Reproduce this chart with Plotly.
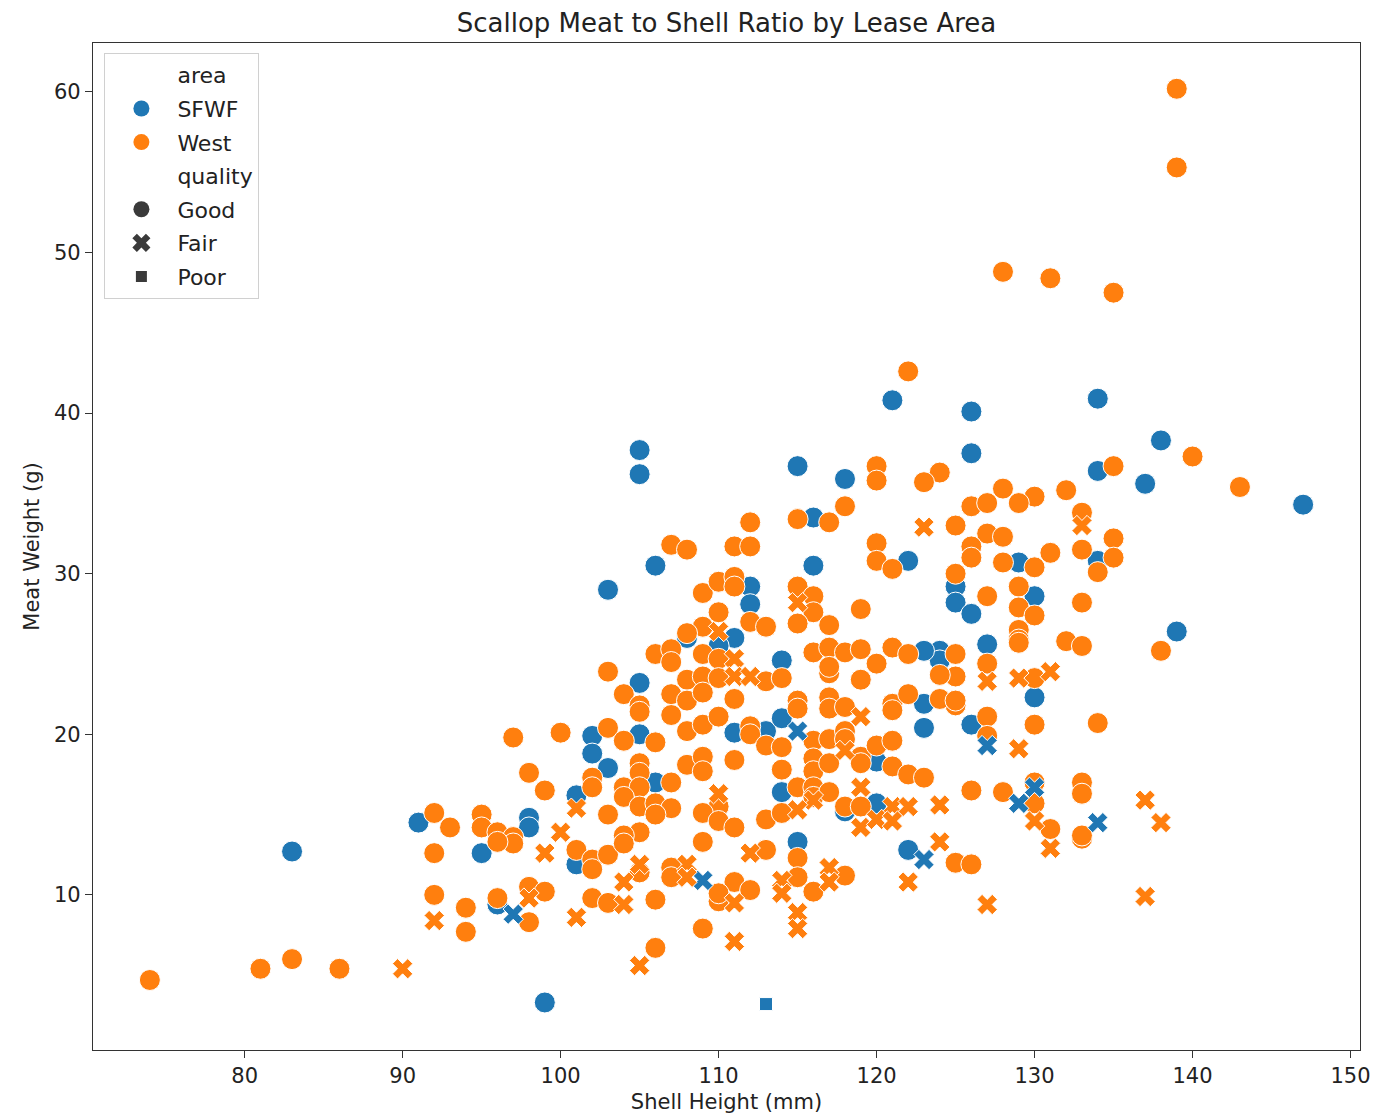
import plotly.graph_objects as go

# ---------------- data ----------------
sfwf_good_x = [105, 105, 115, 118, 116, 103, 106, 116, 122, 121, 126, 134, 138, 126, 137, 134, 147, 139,
               83, 91, 95, 99, 112, 112, 111, 108, 125, 125, 129, 130, 126, 134, 127, 130, 126, 123,
               123, 124, 124, 123, 114, 111, 113, 114, 120, 114, 120, 118, 105, 102, 102, 105, 103,
               101, 106, 98, 98, 101, 96, 115, 122, 110]
sfwf_good_y = [37.7, 36.2, 36.7, 35.9, 33.5, 29.0, 30.5, 30.5, 30.8, 40.8, 40.1, 40.9, 38.3, 37.5, 35.6, 36.4, 34.3, 26.4,
               12.7, 14.5, 12.6, 3.3, 29.2, 28.1, 26.0, 26.0, 29.2, 28.2, 30.7, 28.6, 27.5, 30.8, 25.6, 22.3, 20.6, 21.9,
               20.4, 25.2, 24.6, 25.2, 24.6, 20.1, 20.2, 21.0, 18.3, 16.4, 15.7, 15.2, 23.2, 19.9, 18.8, 20.0, 17.9,
               16.2, 17.0, 14.8, 14.2, 11.9, 9.4, 13.3, 12.8, 25.5]

sfwf_fair_x = [97, 109, 115, 123, 127, 129, 130, 134, 131]
sfwf_fair_y = [8.8, 10.9, 20.2, 12.2, 19.3, 15.7, 16.7, 14.5, 12.9]

sfwf_poor_x = [113]
sfwf_poor_y = [3.2]

west_fair_x = [90, 92, 98, 101, 99, 101, 100, 104, 104, 105, 105, 108, 108, 111, 111, 112, 114, 114, 115, 115,
               117, 117, 122, 124, 127, 131, 137, 137, 138, 130, 129, 127, 129, 131, 133, 123, 115, 110, 111, 111,
               112, 119, 118, 110, 116, 115, 119, 121, 122, 124, 119, 120, 121]
west_fair_y = [5.4, 8.4, 9.8, 8.6, 12.6, 15.4, 13.9, 9.4, 10.8, 11.9, 5.6, 11.9, 11.1, 9.5, 7.1, 12.6, 10.9, 10.1, 8.9, 7.9,
               11.7, 10.8, 10.8, 13.3, 9.4, 12.9, 9.9, 15.9, 14.5, 14.6, 19.1, 23.3, 23.5, 23.9, 33.0, 32.9, 28.2, 26.4, 24.7, 23.6,
               23.6, 21.1, 19.0, 16.3, 15.9, 15.3, 16.7, 15.5, 15.5, 15.6, 14.2, 14.7, 14.6]

west_good_x = [139, 139, 128, 131, 135, 122, 140, 143, 138, 74, 81, 83, 86,
               107, 120, 120, 124, 123, 112, 115, 117, 118, 125, 108, 111, 112, 120, 120, 121, 125, 115, 116, 116, 115, 117,
               119, 109, 110, 111, 111, 110, 112, 113, 109, 108,
               135, 128, 130, 129, 132, 126, 127, 133, 127, 128, 126, 126, 135, 133, 131, 135, 134, 128, 130, 129, 127, 129,
               130, 133, 129, 129,
               106, 107, 107, 103, 104, 105, 105, 107, 107, 103, 104, 106, 97, 100, 98, 105, 105, 102, 99, 102, 104, 105, 107,
               103, 104, 105, 106, 107, 106, 92, 93, 95, 95, 96, 97, 105, 104,
               92, 97, 96, 101, 102, 102, 103, 104, 105, 107, 107, 92, 94, 94, 96, 98, 99, 98, 102, 103, 106, 106,
               109, 113, 111, 112, 110, 110, 115, 115, 116, 118, 109, 125, 126, 133,
               129, 132, 133, 127, 130, 125, 125, 127, 130, 134, 127, 126, 128, 130, 130, 133, 133, 131, 133,
               109, 110, 116, 117, 118, 119, 120, 121, 122, 125, 108, 109, 110, 113, 114, 117, 117, 119, 124, 108, 109, 111,
               115, 115, 117, 117, 118, 121, 121, 122, 124, 125, 108, 109, 110, 112, 112, 113, 114, 116, 116, 117, 118, 118,
               119, 119, 120, 121, 121, 122, 123, 108, 109, 109, 111, 114, 116, 117, 115, 116, 116, 117, 118, 119, 110, 109,
               110, 111, 113, 114]
west_good_y = [60.2, 55.3, 48.8, 48.4, 47.5, 42.6, 37.3, 35.4, 25.2, 4.7, 5.4, 6.0, 5.4,
               31.8, 36.7, 35.8, 36.3, 35.7, 33.2, 33.4, 33.2, 34.2, 33.0, 31.5, 31.7, 31.7, 31.9, 30.8, 30.3, 30.0, 29.2, 28.6, 27.6, 26.9, 26.8,
               27.8, 28.8, 29.5, 29.8, 29.2, 27.6, 27.0, 26.7, 26.7, 26.3,
               36.7, 35.3, 34.8, 34.4, 35.2, 34.2, 34.4, 33.8, 32.5, 32.3, 31.7, 31.0, 32.2, 31.5, 31.3, 31.0, 30.1, 30.7, 30.4, 29.2, 28.6, 27.9,
               27.4, 28.2, 26.5, 25.9,
               25.0, 25.3, 24.5, 23.9, 22.5, 21.8, 21.4, 22.5, 21.2, 20.4, 19.6, 19.5, 19.8, 20.1, 17.6, 18.2, 17.6, 17.3, 16.5, 16.7, 16.7, 16.7, 17.0,
               15.0, 16.1, 15.5, 15.7, 15.4, 15.0, 15.1, 14.2, 15.0, 14.2, 13.9, 13.6, 13.9, 13.7,
               12.6, 13.2, 13.3, 12.8, 12.2, 11.6, 12.5, 13.2, 11.4, 11.7, 11.1, 10.0, 9.2, 7.7, 9.8, 10.5, 10.2, 8.3, 9.8, 9.5, 9.7, 6.7,
               13.3, 12.8, 10.8, 10.3, 9.6, 10.1, 12.3, 11.1, 10.2, 11.2, 7.9, 12.0, 11.9, 13.5,
               25.7, 25.8, 25.5, 24.4, 23.5, 23.6, 21.8, 21.1, 20.6, 20.7, 19.9, 16.5, 16.4, 17.0, 15.7, 17.0, 16.3, 14.1, 13.7,
               25.0, 24.7, 25.1, 25.4, 25.1, 25.3, 24.4, 25.4, 25.0, 25.0, 23.4, 23.6, 23.5, 23.3, 23.5, 23.8, 24.2, 23.4, 23.7, 22.1, 22.6, 22.2,
               22.1, 21.6, 22.3, 21.6, 21.7, 21.9, 21.5, 22.5, 22.2, 22.1, 20.2, 20.6, 21.1, 20.5, 20.0, 19.3, 19.2, 19.6, 18.5, 19.7, 20.2, 19.7,
               18.6, 18.2, 19.3, 19.6, 18.0, 17.5, 17.3, 18.1, 18.6, 17.7, 18.4, 17.8, 17.7, 18.2, 16.7, 16.7, 16.1, 16.4, 15.5, 15.5, 15.5, 15.1,
               14.6, 14.2, 14.7, 15.1]

x_ticks = [80, 90, 100, 110, 120, 130, 140, 150]
y_ticks = [10, 20, 30, 40, 50, 60]

area_colors = {"SFWF": "#1f77b4", "West": "#ff7f0e"}
legend_dark = "#3a3a3a"
FONT = "DejaVu Sans"

# ---------------- figure ----------------
fig = go.Figure()

def add_points(xs, ys, color, symbol, size):
    fig.add_trace(go.Scatter(
        x=xs, y=ys, mode="markers", showlegend=False, hoverinfo="x+y",
        marker=dict(color=color, symbol=symbol, size=size,
                    line=dict(color="white", width=1)),
    ))

add_points(sfwf_good_x, sfwf_good_y, area_colors["SFWF"], "circle", 21)
add_points(west_good_x, west_good_y, area_colors["West"], "circle", 21)
add_points(sfwf_fair_x, sfwf_fair_y, area_colors["SFWF"], "x", 18)
add_points(west_fair_x, west_fair_y, area_colors["West"], "x", 18)
add_points(sfwf_poor_x, sfwf_poor_y, area_colors["SFWF"], "square", 13)

# legend entries (seaborn style, with section headers)
legend_items = [
    ("area", "rgba(0,0,0,0)", "circle"),
    ("SFWF", area_colors["SFWF"], "circle"),
    ("West", area_colors["West"], "circle"),
    ("quality", "rgba(0,0,0,0)", "circle"),
    ("Good", legend_dark, "circle"),
    ("Fair", legend_dark, "x"),
    ("Poor", legend_dark, "square"),
]
for i, (name, col, sym) in enumerate(legend_items):
    fig.add_trace(go.Scatter(
        x=[None], y=[None], mode="markers", name=name, legendgroup=f"g{i}",
        marker=dict(color=col, symbol=sym, size=16 if sym != "square" else 11,
                    line=dict(width=0)),
    ))

TXT = "#222222"
axis_common = dict(
    showline=True, linecolor="#333333", linewidth=1.3, mirror=True,
    ticks="outside", ticklen=7, tickwidth=1.2, tickcolor="#333333",
    showgrid=False, zeroline=False,
    tickfont=dict(family=FONT, size=21, color=TXT),
)

fig.update_layout(
    width=1386, height=1120,
    margin=dict(l=85, r=34, t=35, b=78),
    plot_bgcolor="white", paper_bgcolor="white",
    title=dict(text="Scallop Meat to Shell Ratio by Lease Area",
               x=0.5, xref="paper", xanchor="center",
               y=1 - 15 / 1120, yanchor="middle",
               font=dict(family=FONT, size=26, color=TXT)),
    xaxis=dict(range=[70.4, 150.6], tickvals=x_ticks,
               title=dict(text="Shell Height (mm)", standoff=6,
                          font=dict(family=FONT, size=21, color=TXT)),
               **axis_common),
    yaxis=dict(range=[0.34, 63.05], tickvals=y_ticks,
               title=dict(text="Meat Weight (g)", standoff=8,
                          font=dict(family=FONT, size=21, color=TXT)),
               **axis_common),
    legend=dict(x=0.009, y=0.99, xanchor="left", yanchor="top",
                bgcolor="rgba(255,255,255,0.85)", bordercolor="#d0d0d0", borderwidth=1,
                font=dict(family=FONT, size=22, color=TXT),
                tracegroupgap=2, itemsizing="trace", itemwidth=62),
    showlegend=True,
)

fig.write_html("out.html")
